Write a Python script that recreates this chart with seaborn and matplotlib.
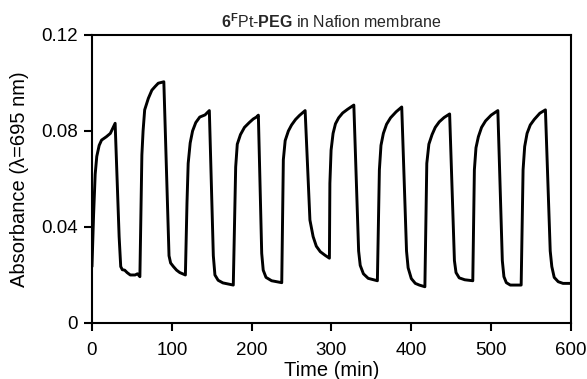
import numpy as np
import pandas as pd
import matplotlib
matplotlib.use("Agg")
import matplotlib.pyplot as plt
import seaborn as sns

# values (time in min, absorbance)
time_min = [0, 2, 4, 6, 9, 12, 18, 23, 29, 34, 36, 38, 41, 44, 48, 54, 57, 60,
            61, 62.5, 64, 66, 70.6, 75, 79, 83, 90, 96.5, 98.5, 102, 106, 110, 117,
            119, 120.5, 123, 126, 130, 135, 141.6, 147, 152, 154, 158, 164, 177,
            180, 182, 186, 191, 197, 202, 206, 208.4, 212.6, 214.5, 218, 225, 237.7,
            239.7, 242, 246, 250, 255, 260, 267, 273, 277, 281, 286, 292, 297.4,
            298, 299.5, 302, 305, 309, 314, 320, 328, 334, 336, 340, 346, 357.5,
            360, 362, 365, 369, 374, 381, 388, 394, 396, 400, 405, 410, 417,
            419.4, 422, 426, 430, 435, 441, 448, 454, 456, 460, 467, 477,
            479, 481, 484, 488, 493, 500, 508.4, 514, 516, 519, 524, 537.6,
            540, 542, 545, 549, 554, 561, 568, 574, 576, 579, 584, 590, 600]
absorbance = [0.0235, 0.045, 0.062, 0.0694, 0.074, 0.0762, 0.0776, 0.079, 0.0832,
              0.036, 0.0235, 0.0222, 0.022, 0.021, 0.020, 0.020, 0.0205, 0.0193,
              0.040, 0.070, 0.080, 0.0888, 0.0936, 0.097, 0.0985, 0.0999, 0.1005,
              0.028, 0.025, 0.0235, 0.022, 0.021, 0.020,
              0.050, 0.0665, 0.075, 0.080, 0.0835, 0.0858, 0.0867, 0.0885,
              0.028, 0.020, 0.0178, 0.0167, 0.0158,
              0.065, 0.0745, 0.0785, 0.0815, 0.0835, 0.085, 0.0858, 0.0866,
              0.029, 0.022, 0.019, 0.0176, 0.0168,
              0.068, 0.076, 0.080, 0.0825, 0.0848, 0.0865, 0.0885,
              0.0429, 0.036, 0.032, 0.0297, 0.0282, 0.027,
              0.0582, 0.072, 0.079, 0.083, 0.0855, 0.0875, 0.089, 0.0908,
              0.030, 0.024, 0.0205, 0.0186, 0.0176,
              0.0638, 0.074, 0.079, 0.0828, 0.0855, 0.088, 0.090,
              0.030, 0.023, 0.0185, 0.0165, 0.0158, 0.0151,
              0.0665, 0.0745, 0.0785, 0.0815, 0.0838, 0.0856, 0.0871,
              0.026, 0.021, 0.0188, 0.018, 0.0176,
              0.0638, 0.073, 0.0776, 0.0815, 0.0842, 0.0866, 0.0885,
              0.026, 0.0193, 0.0168, 0.0158, 0.0158,
              0.0638, 0.0735, 0.079, 0.0825, 0.0848, 0.0874, 0.0888,
              0.030, 0.0235, 0.019, 0.0172, 0.0165, 0.0165]
x_ticks = [0, 100, 200, 300, 400, 500, 600]
y_ticks = [0, 0.04, 0.08, 0.12]
y_tick_labels = ["0", "0.04", "0.08", "0.12"]

df = pd.DataFrame({"Time": time_min, "Absorbance": absorbance})

sns.set_style("ticks")
plt.rcParams["font.family"] = ["Liberation Sans", "DejaVu Sans"]
plt.rcParams["mathtext.fontset"] = "custom"
plt.rcParams["mathtext.rm"] = "Liberation Sans"
plt.rcParams["mathtext.bf"] = "Liberation Sans:bold"

fig = plt.figure(figsize=(5.87, 3.79), dpi=100)
ax = fig.add_axes([0.1567, 0.1478, 0.816, 0.7599])
sns.lineplot(data=df, x="Time", y="Absorbance", color="black", linewidth=2.1, ax=ax)

ax.set_xlim(0, 600)
ax.set_ylim(0, 0.12)
ax.set_xticks(x_ticks)
ax.set_yticks(y_ticks)
ax.set_yticklabels(y_tick_labels)
ax.tick_params(axis="both", labelsize=13.5, length=6, width=1.5, color="black", labelcolor="black")
ax.tick_params(axis="x", pad=8)
ax.tick_params(axis="y", pad=4)
for s in ax.spines.values():
    s.set_linewidth(1.5)
    s.set_color("black")
ax.set_xlabel("Time (min)", fontsize=14.5, labelpad=1, color="black")
ax.set_ylabel("Absorbance (λ=695 nm)", fontsize=14.5, labelpad=9, color="black")
ax.set_title(r"$\mathbf{6^F}$Pt-$\mathbf{PEG}$ in Nafion membrane", fontsize=11.5, pad=5)

fig.savefig("out.png", dpi=100)
